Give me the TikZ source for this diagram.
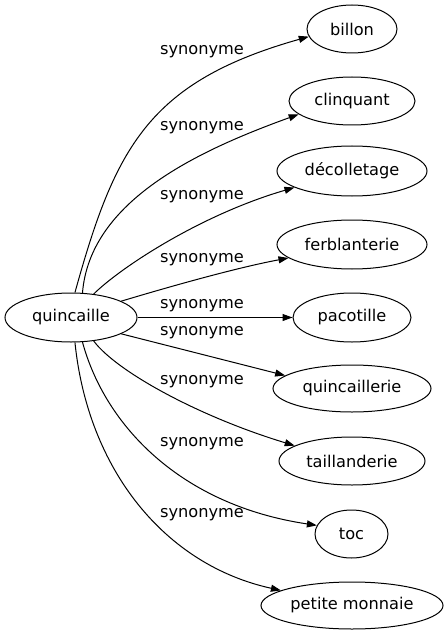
\documentclass[tikz,border=0pt]{standalone}
\usepackage{fontspec}
\setmainfont{DejaVu Sans}
\usetikzlibrary{shapes.geometric,arrows.meta}
\begin{document}
\begin{tikzpicture}[x=1bp,y=-1bp,
  word/.style={draw,ellipse,inner sep=0pt,line width=1bp,font=\fontsize{16.2bp}{19bp}\selectfont},
  lbl/.style={inner sep=0pt,font=\fontsize{16.2bp}{19bp}\selectfont},
  syn/.style={line width=1bp,-{Triangle[length=10bp,width=7bp]}}]
\useasboundingbox (0,0) rectangle (448,635);
\node[word,minimum width=132bp,minimum height=49bp] (q) at (71,317.5) {quincaille};
\node[word,minimum width=90bp,minimum height=48bp] (billon) at (352,29) {billon};
\node[word,minimum width=126bp,minimum height=48bp] (clinquant) at (352,101) {clinquant};
\node[word,minimum width=150bp,minimum height=50bp] (decolletage) at (352,171) {décolletage};
\node[word,minimum width=150bp,minimum height=49bp] (ferblanterie) at (352,244.5) {ferblanterie};
\node[word,minimum width=118bp,minimum height=49bp] (pacotille) at (352,317.5) {pacotille};
\node[word,minimum width=158bp,minimum height=47bp] (quincaillerie) at (352,388.5) {quincaillerie};
\node[word,minimum width=146bp,minimum height=48bp] (taillanderie) at (352,461) {taillanderie};
\node[word,minimum width=73bp,minimum height=48bp] (toc) at (351.5,534) {toc};
\node[word,minimum width=182bp,minimum height=47bp] (petite) at (352,605.5) {petite monnaie};

\draw[syn] (q.81) .. controls (115,148) and (148,82) .. (billon.190);
\draw[syn] (q.65.5) .. controls (90,200) and (200,150) .. (clinquant.194);
\draw[syn] (q.46) .. controls (120,268) and (200,215) .. (decolletage.196);
\draw[syn] (q.18) .. controls (165,288) and (235,268) .. (ferblanterie.192);
\draw[syn] (q.east) -- (pacotille.west);
\draw[syn] (q.-18.5) -- (quincaillerie.169);
\draw[syn] (q.-46) .. controls (117,372) and (200,417) .. (taillanderie.165);
\draw[syn] (q.-65.5) .. controls (105,425) and (180,505) .. (toc.166);
\draw[syn] (q.-81) .. controls (88,470) and (165,565) .. (petite.168);

\node[lbl] (l1) at (202,52) {synonyme};
\node[lbl] (l2) at (202,128) {synonyme};
\node[lbl] (l3) at (202,197) {synonyme};
\node[lbl] (l4) at (202,260) {synonyme};
\node[lbl] (l5) at (202,306) {synonyme};
\node[lbl] (l6) at (202,333) {synonyme};
\node[lbl] (l7) at (202,382) {synonyme};
\node[lbl] (l8) at (202,444) {synonyme};
\node[lbl] (l9) at (202,515) {synonyme};
\end{tikzpicture}
\end{document}
